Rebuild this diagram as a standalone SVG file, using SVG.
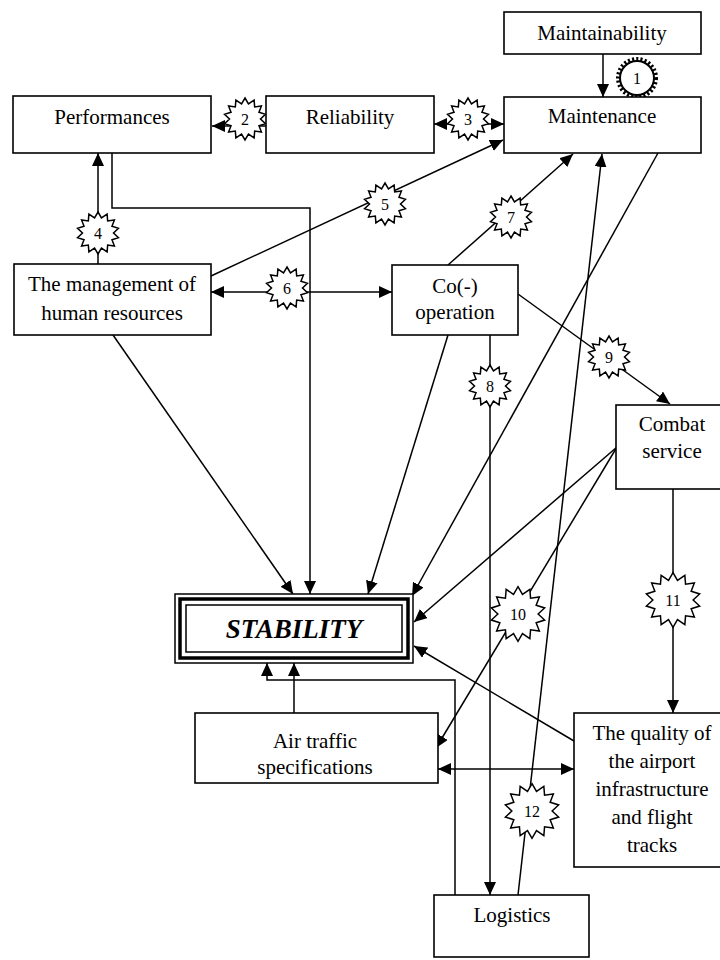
<svg xmlns="http://www.w3.org/2000/svg" xmlns:xlink="http://www.w3.org/1999/xlink" width="720" height="960" viewBox="0 0 720 960">
<style>
.box{fill:#fff;stroke:#000;stroke-width:1.6}
.lbl{font-family:"Liberation Serif","Times New Roman",serif;font-size:21px;fill:#000;text-anchor:middle}
.num{font-family:"Liberation Serif","Times New Roman",serif;font-size:16px;fill:#000;text-anchor:middle}
.ln{fill:none;stroke:#000;stroke-width:1.5}
.ar{marker-end:url(#ah)}
.ar2{marker-start:url(#ah);marker-end:url(#ah)}
.star{fill:#fff;stroke:#000;stroke-width:1.5;vector-effect:non-scaling-stroke}
</style>
<defs>
<marker id="ah" markerUnits="userSpaceOnUse" markerWidth="13" markerHeight="12" refX="13" refY="6" orient="auto-start-reverse"><path d="M0,0 L13,6 L0,12 z" fill="#000"/></marker>
<path id="st" class="star" d="M0,-21 L3.45,-15.11 L9.11,-18.92 L9.66,-12.12 L16.42,-13.09 L13.97,-6.73 L20.47,-4.67 L15.5,0 L20.47,4.67 L13.97,6.73 L16.42,13.09 L9.66,12.12 L9.11,18.92 L3.45,15.11 L0,21 L-3.45,15.11 L-9.11,18.92 L-9.66,12.12 L-16.42,13.09 L-13.97,6.73 L-20.47,4.67 L-15.5,0 L-20.47,-4.67 L-13.97,-6.73 L-16.42,-13.09 L-9.66,-12.12 L-9.11,-18.92 L-3.45,-15.11 Z"/>
</defs>
<g id="connectors">
<line class="ln ar" x1="603" y1="54" x2="603" y2="97"/>
<line class="ln ar" x1="266" y1="126" x2="212" y2="126"/>
<line class="ln ar2" x1="434" y1="124" x2="504" y2="124"/>
<line class="ln ar" x1="98" y1="264" x2="98" y2="153"/>
<line class="ln ar" x1="211" y1="276" x2="503" y2="140"/>
<line class="ln ar2" x1="211" y1="292" x2="392" y2="292"/>
<line class="ln ar" x1="448" y1="265" x2="573" y2="154"/>
<line class="ln ar" x1="490" y1="335" x2="490" y2="895"/>
<line class="ln ar" x1="518" y1="294" x2="670" y2="404"/>
<line class="ln ar" x1="617" y1="447" x2="436" y2="748"/>
<line class="ln ar" x1="673" y1="489" x2="673" y2="713"/>
<line class="ln ar" x1="518" y1="895" x2="602" y2="154"/>
<polyline class="ln ar" points="112,153 112,208 310,208 310,594"/>
<line class="ln ar" x1="113" y1="335" x2="293" y2="594"/>
<line class="ln ar" x1="448" y1="335" x2="368" y2="594"/>
<line class="ln ar" x1="658" y1="153" x2="412" y2="596"/>
<line class="ln ar" x1="617" y1="447" x2="414" y2="622"/>
<line class="ln ar" x1="574" y1="741" x2="414" y2="646"/>
<line class="ln ar" x1="294" y1="713" x2="294" y2="663"/>
<polyline class="ln ar" points="455,895 455,680 267,680 267,663"/>
<line class="ln ar2" x1="438" y1="769" x2="574" y2="769"/>
</g>
<g id="badges">
<g id="b1"><circle cx="637" cy="78" r="19" fill="none" stroke="#000" stroke-width="4" stroke-dasharray="2.1 2.1"/><circle cx="637" cy="78" r="17" fill="#fff" stroke="#000" stroke-width="2"/><text class="num" x="637" y="84">1</text></g>
<g id="b2"><use xlink:href="#st" transform="translate(245,119)"/><text class="num" x="245" y="125">2</text></g>
<g id="b3"><use xlink:href="#st" transform="translate(468,119)"/><text class="num" x="468" y="125">3</text></g>
<g id="b4"><use xlink:href="#st" transform="translate(98,233)"/><text class="num" x="98" y="239">4</text></g>
<g id="b5"><use xlink:href="#st" transform="translate(385,204)"/><text class="num" x="385" y="210">5</text></g>
<g id="b6"><use xlink:href="#st" transform="translate(287,288)"/><text class="num" x="287" y="294">6</text></g>
<g id="b7"><use xlink:href="#st" transform="translate(511,217)"/><text class="num" x="511" y="223">7</text></g>
<g id="b8"><use xlink:href="#st" transform="translate(490,386)"/><text class="num" x="490" y="392">8</text></g>
<g id="b9"><use xlink:href="#st" transform="translate(609,357)"/><text class="num" x="609" y="363">9</text></g>
<g id="b10"><use xlink:href="#st" transform="translate(518,614) scale(1.3)"/><text class="num" x="518" y="620">10</text></g>
<g id="b11"><use xlink:href="#st" transform="translate(673,600) scale(1.3)"/><text class="num" x="673" y="606">11</text></g>
<g id="b12"><use xlink:href="#st" transform="translate(532,811) scale(1.3)"/><text class="num" x="532" y="817">12</text></g>
</g>
<g id="n-maintainability"><rect class="box" x="504" y="12" width="197" height="42"/><text class="lbl" x="602" y="40">Maintainability</text></g>
<g id="n-maintenance"><rect class="box" x="504" y="97" width="197" height="56"/><text class="lbl" x="602" y="123">Maintenance</text></g>
<g id="n-performances"><rect class="box" x="13" y="96" width="198" height="57"/><text class="lbl" x="112" y="124">Performances</text></g>
<g id="n-reliability"><rect class="box" x="266" y="96" width="168" height="57"/><text class="lbl" x="350" y="124">Reliability</text></g>
<g id="n-management"><rect class="box" x="14" y="264" width="197" height="71"/><text class="lbl" x="112" y="291">The management of</text><text class="lbl" x="112" y="320">human resources</text></g>
<g id="n-cooperation"><rect class="box" x="392" y="265" width="126" height="70"/><text class="lbl" x="455" y="293">Co(-)</text><text class="lbl" x="455" y="319">operation</text></g>
<g id="n-combat"><rect class="box" x="616" y="405" width="114" height="84"/><text class="lbl" x="672" y="431">Combat</text><text class="lbl" x="672" y="458">service</text></g>
<g id="n-stability"><rect x="175" y="594" width="238" height="69" fill="#fff" stroke="#000" stroke-width="1.5"/><rect x="180" y="599" width="228" height="59" fill="none" stroke="#000" stroke-width="3.5"/><rect x="186" y="605" width="216" height="47" fill="none" stroke="#000" stroke-width="1.5"/><text x="294" y="638" font-family="Liberation Serif,Times New Roman,serif" font-size="27" font-weight="bold" font-style="italic" text-anchor="middle">STABILITY</text></g>
<g id="n-airtraffic"><rect class="box" x="195" y="713" width="243" height="70"/><text class="lbl" x="315" y="748">Air traffic</text><text class="lbl" x="315" y="774">specifications</text></g>
<g id="n-quality"><rect class="box" x="574" y="713" width="158" height="154"/><text class="lbl" x="652" y="740">The quality of</text><text class="lbl" x="652" y="768">the airport</text><text class="lbl" x="652" y="796">infrastructure</text><text class="lbl" x="652" y="824">and flight</text><text class="lbl" x="652" y="852">tracks</text></g>
<g id="n-logistics"><rect class="box" x="434" y="895" width="155" height="62"/><text class="lbl" x="512" y="922">Logistics</text></g>
</svg>
